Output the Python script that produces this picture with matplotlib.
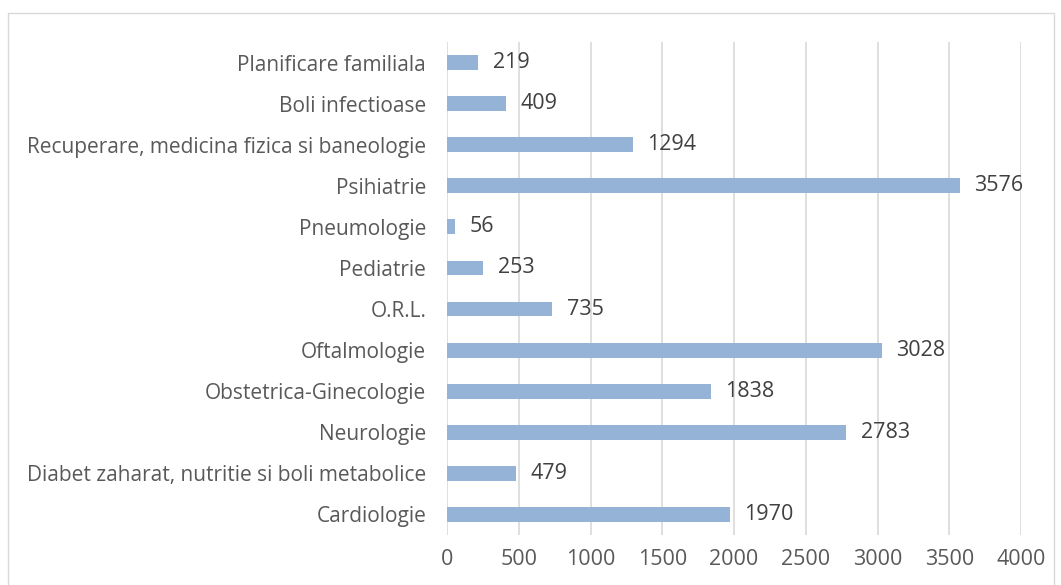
import matplotlib.pyplot as plt
from matplotlib.patches import Rectangle

# date (de jos in sus)
categorii = ['Cardiologie', 'Diabet zaharat, nutritie si boli metabolice', 'Neurologie',
             'Obstetrica-Ginecologie', 'Oftalmologie', 'O.R.L.', 'Pediatrie', 'Pneumologie',
             'Psihiatrie', 'Recuperare, medicina fizica si baneologie', 'Boli infectioase',
             'Planificare familiala']
valori = [1970, 479, 2783, 1838, 3028, 735, 253, 56, 3576, 1294, 409, 219]
ticks_x = [0, 500, 1000, 1500, 2000, 2500, 3000, 3500, 4000]

text_col = '#595959'
plt.rcParams['font.family'] = ['Open Sans', 'DejaVu Sans']

fig = plt.figure(figsize=(10.61, 5.85), dpi=100)
fig.patches.append(Rectangle((8 / 1061, -0.1), 1046 / 1061, 1.1 - 13 / 585,
                             transform=fig.transFigure, fill=False,
                             edgecolor='#D9D9D9', linewidth=1))
ax = fig.add_axes([447 / 1061, 50 / 585, 574 / 1061, 493 / 585])

pos = range(len(categorii))
ax.barh(pos, valori, height=0.36, color='#95B3D7', zorder=3)
for p, v in zip(pos, valori):
    ax.text(v + 100, p, str(v), va='center', ha='left', fontsize=15.5, color='#404040')

ax.set_yticks(list(pos))
ax.set_yticklabels(categorii, fontsize=15, color=text_col)
ax.set_xticks(ticks_x)
ax.set_xticklabels([str(t) for t in ticks_x], fontsize=15.5, color=text_col)
ax.set_xlim(0, 4000)
ax.set_ylim(-0.5, len(categorii) - 0.5)
ax.grid(axis='x', color='#D9D9D9', linewidth=1.2, zorder=0)
ax.tick_params(length=0, pad=10)
ax.tick_params(axis='y', pad=15)
for s in ax.spines.values():
    s.set_visible(False)

fig.savefig('out.png', dpi=100)
